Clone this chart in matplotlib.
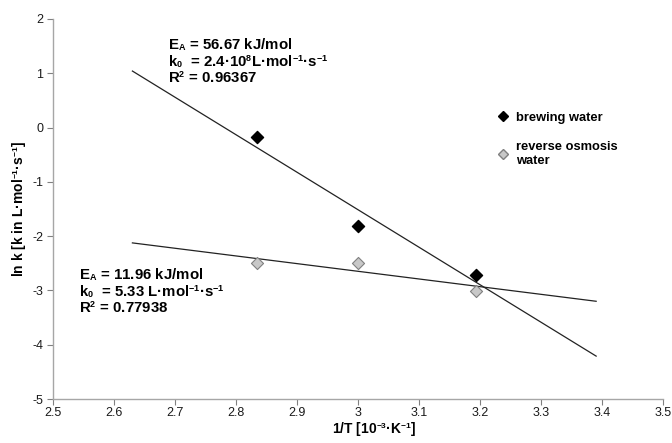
import matplotlib
matplotlib.use("Agg")
import matplotlib.pyplot as plt
from matplotlib.lines import Line2D
import matplotlib._mathtext as _mt

# smaller, tighter sub/superscripts (closer to the reference look)
_mt.SHRINK_FACTOR = 0.6
_mt.FontConstantsBase.sup1 = 0.55
_mt.FontConstantsBase.sub1 = 0.15
_mt.FontConstantsBase.sub2 = 0.3

plt.rcParams['font.family'] = ['Liberation Sans', 'DejaVu Sans']
plt.rcParams['mathtext.fontset'] = 'custom'
plt.rcParams['mathtext.rm'] = 'Liberation Sans'
plt.rcParams['mathtext.bf'] = 'Liberation Sans:bold'
plt.rcParams['axes.unicode_minus'] = False

# data
inv_T = [2.835, 3.0, 3.193]
brewing = [-0.17, -1.81, -2.71]
ro = [-2.49, -2.49, -3.01]
trend_x = [2.63, 3.39]
trend_brewing = [1.04, -4.21]
trend_ro = [-2.125, -3.20]
x_ticks = [2.5, 2.6, 2.7, 2.8, 2.9, 3.0, 3.1, 3.2, 3.3, 3.4, 3.5]
x_tick_labels = ['2.5', '2.6', '2.7', '2.8', '2.9', '3', '3.1', '3.2', '3.3', '3.4', '3.5']
y_ticks = [-5, -4, -3, -2, -1, 0, 1, 2]
block1 = ['E$_{\\mathbf{A}}$ = 56.67 kJ/mol',
          'k$_{\\mathbf{0}}$  = 2.4·10$^{\\mathbf{8}}$L·mol$^{\\mathbf{-1}}$·s$^{\\mathbf{-1}}$',
          'R$^{\\mathbf{2}}$ = 0.96367']
block2 = ['E$_{\\mathbf{A}}$ = 11.96 kJ/mol',
          'k$_{\\mathbf{0}}$  = 5.33 L·mol$^{\\mathbf{-1}}$·s$^{\\mathbf{-1}}$',
          'R$^{\\mathbf{2}}$ = 0.77938']
legend_labels = ['brewing water', 'reverse osmosis\nwater']

fig = plt.figure(figsize=(6.72, 4.43), dpi=100)
ax = fig.add_axes([0.079, 0.0993, 0.908, 0.858])

ax.plot(trend_x, trend_brewing, color='#222222', lw=0.9, zorder=2)
ax.plot(trend_x, trend_ro, color='#222222', lw=0.9, zorder=2)
ax.scatter(inv_T, brewing, marker='D', s=38, color='black', zorder=3)
ax.scatter(inv_T, ro, marker='D', s=38, facecolor='#c8c8c8', edgecolor='#808080', lw=0.8, zorder=3)

ax.set_xlim(2.5, 3.5)
ax.set_ylim(-5, 2)
ax.set_xticks(x_ticks)
ax.set_xticklabels(x_tick_labels)
ax.set_yticks(y_ticks)
for s in ['top', 'right']:
    ax.spines[s].set_visible(False)
for s in ['left', 'bottom']:
    ax.spines[s].set_color('#a6a6a6')
    ax.spines[s].set_linewidth(1.0)
ax.tick_params(axis='both', direction='out', length=4, color='#808080', labelsize=9, labelcolor='#1a1a1a')
ax.tick_params(axis='x', pad=2)
ax.tick_params(axis='y', pad=3)

ax.set_xlabel(r'1/T [10$^{\mathbf{-3}}$·K$^{\mathbf{-1}}$]', fontsize=10, fontweight='bold')
ax.xaxis.set_label_coords((374 - 53) / 610, -0.055)
ax.set_ylabel(r'ln k [k in L·mol$^{\mathbf{-1}}$·s$^{\mathbf{-1}}$]', fontsize=10, fontweight='bold', labelpad=3)

for i, line in enumerate(block1):
    fig.text(168/672, 1 - (45 + 16.7*i)/443, line, fontsize=10.8, fontweight='bold', va='center', ha='left')
for i, line in enumerate(block2):
    fig.text(79/672, 1 - (275 + 16.7*i)/443, line, fontsize=10.8, fontweight='bold', va='center', ha='left')

handles = [Line2D([], [], marker='D', ls='', color='black', markersize=5),
           Line2D([], [], marker='D', ls='', markerfacecolor='#c8c8c8', markeredgecolor='#808080', markersize=5)]
ax.legend(handles, legend_labels, loc='upper left',
          bbox_to_anchor=(485/672, 1 - 100/443), bbox_transform=fig.transFigure,
          frameon=False, prop={'weight': 'bold', 'size': 9.3}, handletextpad=0.5,
          handlelength=1.0, labelspacing=1.35)

fig.savefig('out.png', dpi=100)
